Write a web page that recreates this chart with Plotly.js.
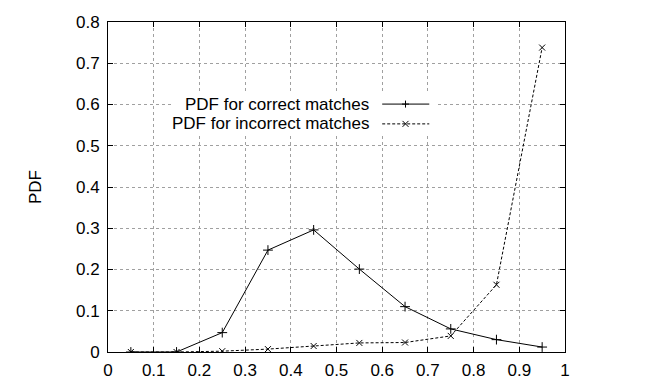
<!DOCTYPE html>
<html>
<head>
<meta charset="utf-8">
<script src="https://cdn.plot.ly/plotly-3.0.1.min.js"></script>
<style>html,body{margin:0;padding:0;background:#fff;}#chart{width:660px;height:380px;}</style>
</head>
<body>
<div id="chart"></div>
<script>
const binCenters = [0.05, 0.15, 0.25, 0.35, 0.45, 0.55, 0.65, 0.75, 0.85, 0.95];
const pdfCorrect = [0, 0, 0.047, 0.247, 0.296, 0.201, 0.110, 0.056, 0.030, 0.012];
const pdfIncorrect = [0, 0, 0.002, 0.007, 0.0145, 0.022, 0.023, 0.039, 0.163, 0.738];
const seriesNames = ["PDF for correct matches", "PDF for incorrect matches"];
const xTicks = [0, 0.1, 0.2, 0.3, 0.4, 0.5, 0.6, 0.7, 0.8, 0.9, 1];
const xTickLabels = ["0", "0.1", "0.2", "0.3", "0.4", "0.5", "0.6", "0.7", "0.8", "0.9", "1"];
const yTicks = [0, 0.1, 0.2, 0.3, 0.4, 0.5, 0.6, 0.7, 0.8];
const yTickLabels = ["0", "0.1", "0.2", "0.3", "0.4", "0.5", "0.6", "0.7", "0.8"];

const font = {family: "Liberation Sans, Arial, sans-serif", size: 17, color: "#000"};

const traces = [
  {x: binCenters, y: pdfCorrect, name: seriesNames[0], mode: "lines+markers",
   line: {color: "#000", width: 1},
   marker: {symbol: "cross-thin", size: 7, line: {color: "#000", width: 1}}},
  {x: binCenters, y: pdfIncorrect, name: seriesNames[1], mode: "lines+markers",
   line: {color: "#000", width: 1, dash: "3px,2px"},
   marker: {symbol: "x-thin", size: 6, line: {color: "#000", width: 1}}}
];

// Manual gnuplot-style legend (text right, sample on the right)
const legX = 0.575, legLine0 = 0.600, legLine1 = 0.703, legMark = 0.651;
const legY = [0.601, 0.553];
const shapes = [
  {type: "rect", xref: "x", yref: "y", x0: 0.14, x1: 0.72, y0: 0.529, y1: 0.628,
   fillcolor: "#fff", line: {width: 0}, layer: "above"},
  {type: "line", xref: "x", yref: "y", x0: legLine0, x1: legLine1, y0: legY[0], y1: legY[0],
   line: {color: "#000", width: 1}, layer: "above"},
  {type: "line", xref: "x", yref: "y", x0: legLine0, x1: legLine1, y0: legY[1], y1: legY[1],
   line: {color: "#000", width: 1, dash: "3px,2px"}, layer: "above"},
  {type: "line", xref: "x", yref: "y", xsizemode: "pixel", ysizemode: "pixel",
   xanchor: legMark, yanchor: legY[0], x0: -3.5, x1: 3.5, y0: 0, y1: 0, line: {color: "#000", width: 1}, layer: "above"},
  {type: "line", xref: "x", yref: "y", xsizemode: "pixel", ysizemode: "pixel",
   xanchor: legMark, yanchor: legY[0], x0: 0, x1: 0, y0: -3.5, y1: 3.5, line: {color: "#000", width: 1}, layer: "above"},
  {type: "line", xref: "x", yref: "y", xsizemode: "pixel", ysizemode: "pixel",
   xanchor: legMark, yanchor: legY[1], x0: -3, x1: 3, y0: -3, y1: 3, line: {color: "#000", width: 1}, layer: "above"},
  {type: "line", xref: "x", yref: "y", xsizemode: "pixel", ysizemode: "pixel",
   xanchor: legMark, yanchor: legY[1], x0: -3, x1: 3, y0: 3, y1: -3, line: {color: "#000", width: 1}, layer: "above"}
];
const annotations = seriesNames.map((n, i) => ({
  xref: "x", yref: "y", x: legX, y: legY[i], text: n, showarrow: false,
  xanchor: "right", yanchor: "middle", font: font
}));

const axisCommon = {
  showline: true, linecolor: "#000", linewidth: 1, mirror: "ticks",
  ticks: "inside", ticklen: 5, tickcolor: "#000", tickwidth: 1,
  showgrid: true, gridcolor: "#a0a0a0", gridwidth: 1, griddash: "dot",
  zeroline: false, tickfont: font, tickmode: "array"
};

const layout = {
  width: 660, height: 380,
  margin: {l: 108, r: 95, t: 22, b: 28},
  paper_bgcolor: "#fff", plot_bgcolor: "#fff",
  showlegend: false,
  font: font,
  xaxis: Object.assign({}, axisCommon, {range: [0, 1], tickvals: xTicks, ticktext: xTickLabels, ticklabelstandoff: 3}),
  yaxis: Object.assign({}, axisCommon, {range: [0, 0.8], tickvals: yTicks, ticktext: yTickLabels,
    title: {text: "PDF", font: font, standoff: 30}, ticklabelstandoff: 4}),
  shapes: shapes,
  annotations: annotations
};

Plotly.newPlot("chart", traces, layout, {displayModeBar: false, staticPlot: true});
</script>
</body>
</html>
